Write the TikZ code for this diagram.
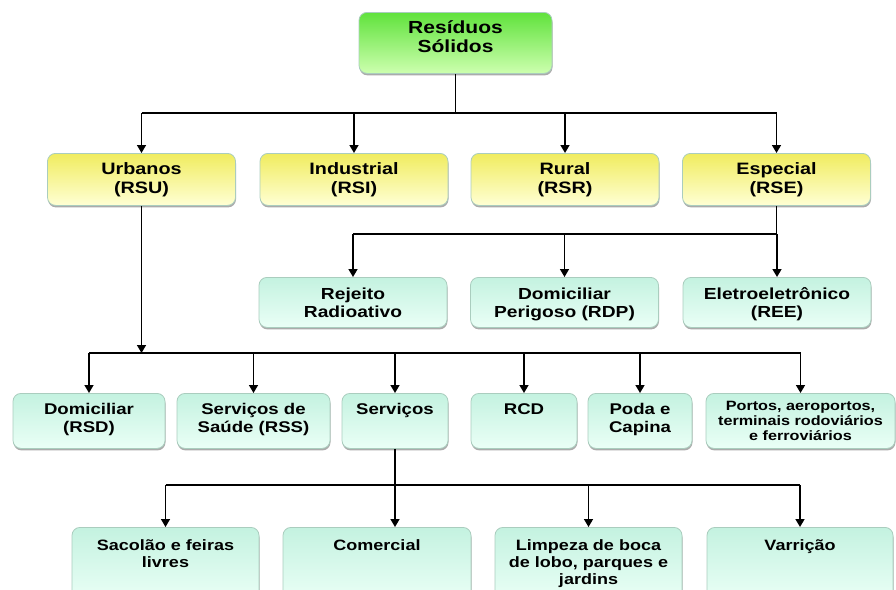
\documentclass[tikz,border=0pt]{standalone}
\usepackage{fontspec}
\setmainfont{Liberation Sans}[FakeStretch=1.2]
\usepackage{tikz}
\usetikzlibrary{positioning,shadows,arrows.meta}

\definecolor{rsgreenA}{RGB}{96,226,60}
\definecolor{rsgreenB}{RGB}{205,255,175}
\definecolor{catyelA}{RGB}{240,236,95}
\definecolor{catyelB}{RGB}{255,255,212}
\definecolor{submintA}{RGB}{196,242,224}
\definecolor{submintB}{RGB}{234,255,246}
\definecolor{boxline}{RGB}{170,205,190}

\begin{document}
\begin{tikzpicture}
  [x=1pt, y=-1pt,
   box/.style={rectangle, rounded corners=8pt, draw=boxline, line width=0.8pt,
     inner sep=0pt, align=center, anchor=north,
     drop shadow={shadow xshift=0.5pt, shadow yshift=-2pt, opacity=0.6, fill=black!55}},
   topbox/.style={box, top color=rsgreenA, bottom color=rsgreenB,
     minimum width=193pt, text width=185pt, text height=21pt, text depth=40pt,
     font=\bfseries\fontsize{17.5}{19}\selectfont},
   catbox/.style={box, top color=catyelA, bottom color=catyelB,
     minimum width=188pt, text width=180pt, text height=21pt, text depth=31pt,
     font=\bfseries\fontsize{16.5}{19}\selectfont},
   subbox/.style={box, top color=submintA, bottom color=submintB},
   kindbox/.style={subbox, text height=22pt, text depth=28pt,
     font=\bfseries\fontsize{16}{18}\selectfont},
   srcbox/.style={subbox, text height=21pt, text depth=34pt,
     font=\bfseries\fontsize{15.5}{18}\selectfont},
   servbox/.style={subbox, text height=23pt, text depth=50pt,
     font=\bfseries\fontsize{15}{17}\selectfont},
   wire/.style={line width=1.6pt},
   feed/.style={wire, -{Triangle[width=9pt,length=8pt]}}]
  \clip (0,0) rectangle (896,589);
  % Top: the whole class
  \node[topbox] (rs) at (455.5,12) {Resíduos\\Sólidos};
  % Level 1: origin of the waste
  \node[catbox] (urb) at (141.5,153) {Urbanos\\(RSU)};
  \node[catbox] (ind) at (354,153)   {Industrial\\(RSI)};
  \node[catbox] (rur) at (565,153)   {Rural\\(RSR)};
  \node[catbox] (esp) at (776.5,153) {Especial\\(RSE)};
  % Level 2: special waste
  \node[kindbox, minimum width=188pt, text width=180pt] (rej) at (353,277)   {Rejeito\\Radioativo};
  \node[kindbox, minimum width=188pt, text width=180pt] (rdp) at (564.5,277) {Domiciliar\\Perigoso (RDP)};
  \node[kindbox, minimum width=188pt, text width=180pt] (ree) at (777,277)   {Eletroeletrônico\\(REE)};
  % Level 3: urban waste
  \node[srcbox, minimum width=152pt, text width=146pt] (dom) at (89,393)    {Domiciliar\\(RSD)};
  \node[srcbox, minimum width=153pt, text width=147pt] (ssa) at (253.5,393) {Serviços de\\Saúde (RSS)};
  \node[srcbox, minimum width=106pt, text width=100pt] (srv) at (395,393)   {Serviços};
  \node[srcbox, minimum width=106pt, text width=100pt] (rcd) at (524,393)   {RCD};
  \node[srcbox, minimum width=104pt, text width=98pt]  (pod) at (640,393)   {Poda e\\Capina};
  \node[srcbox, minimum width=189pt, text width=183pt, text height=17pt, text depth=38pt,
        font=\bfseries\fontsize{13.5}{15}\selectfont] (por) at (800.5,393)
        {Portos, aeroportos,\\terminais rodoviários\\e ferroviários};
  % Level 4: services
  \node[servbox, minimum width=187pt, text width=180pt] (sac) at (165.5,527) {Sacolão e feiras\\livres};
  \node[servbox, minimum width=188pt, text width=180pt] (com) at (377,527)   {Comercial};
  \node[servbox, minimum width=187pt, text width=180pt] (lim) at (588.5,527) {Limpeza de boca\\de lobo, parques e\\jardins};
  \node[servbox, minimum width=186pt, text width=180pt] (var) at (800,527)   {Varrição};
  % bus lines
  \coordinate (busa) at (0,113);
  \coordinate (busb) at (0,234);
  \coordinate (busc) at (0,353);
  \coordinate (busd) at (0,485);
  \draw[wire] (rs.south) -- (rs.south |- busa);
  \draw[wire] (urb.north |- busa) -- (esp.north |- busa);
  \foreach \n in {urb,ind,rur,esp}
    \draw[feed] (\n.north |- busa) -- (\n.north);
  \draw[wire] (esp.south) -- (esp.south |- busb);
  \draw[wire] (rej.north |- busb) -- (ree.north |- busb);
  \foreach \n in {rej,rdp,ree}
    \draw[feed] (\n.north |- busb) -- (\n.north);
  \draw[feed] (urb.south) -- (urb.south |- busc);
  \draw[wire] (dom.north |- busc) -- (por.north |- busc);
  \foreach \n in {dom,ssa,srv,rcd,pod,por}
    \draw[feed] (\n.north |- busc) -- (\n.north);
  \draw[feed] (srv.south) -- (srv.south |- com.north);
  \draw[wire] (sac.north |- busd) -- (var.north |- busd);
  \foreach \n in {sac,lim,var}
    \draw[feed] (\n.north |- busd) -- (\n.north);
\end{tikzpicture}
\end{document}
